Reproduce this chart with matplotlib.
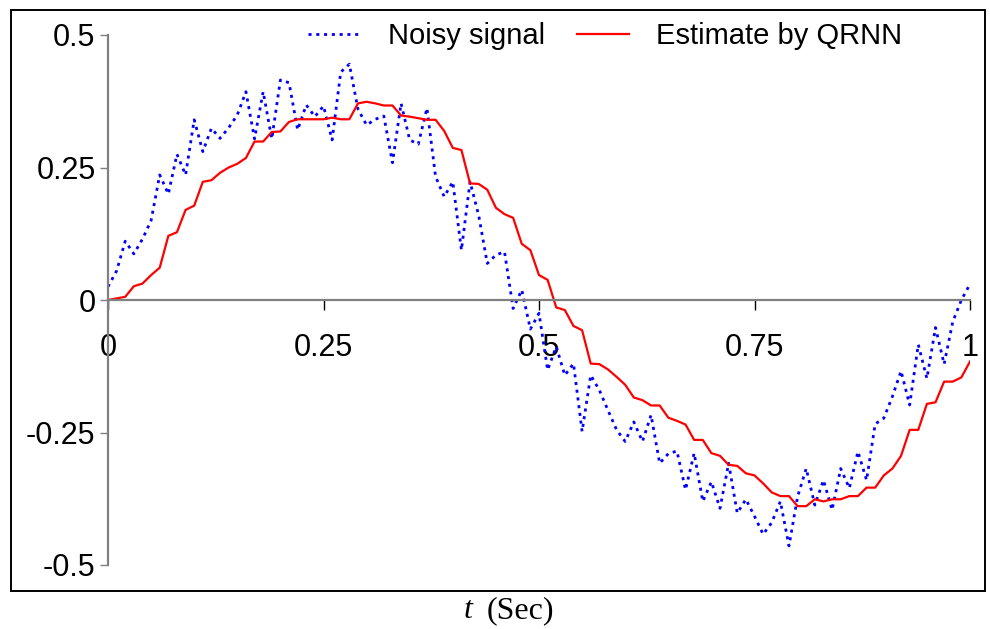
import numpy as np
import matplotlib
matplotlib.use('Agg')
import matplotlib.pyplot as plt
from matplotlib.patches import Rectangle

# ── data (step 0.01 s) ──
t = np.round(np.arange(0, 101) * 0.01, 2)

noisy = [
    0.025, 0.055, 0.111, 0.087, 0.115, 0.150, 0.236, 0.200, 0.275, 0.236,
    0.340, 0.280, 0.324, 0.305, 0.325, 0.349, 0.393, 0.304, 0.393, 0.304,
    0.415, 0.410, 0.321, 0.368, 0.346, 0.366, 0.302, 0.430, 0.445, 0.360,
    0.330, 0.341, 0.347, 0.259, 0.371, 0.302, 0.294, 0.362, 0.233, 0.195,
    0.223, 0.094, 0.223, 0.160, 0.069, 0.085, 0.091, -0.016, 0.019, -0.055,
    -0.025, -0.132, -0.088, -0.142, -0.120, -0.248, -0.142, -0.170, -0.208, -0.245,
    -0.267, -0.230, -0.267, -0.217, -0.308, -0.290, -0.285, -0.358, -0.289, -0.380,
    -0.343, -0.393, -0.308, -0.402, -0.376, -0.408, -0.442, -0.420, -0.380, -0.464,
    -0.371, -0.318, -0.387, -0.340, -0.396, -0.318, -0.355, -0.286, -0.340, -0.234,
    -0.223, -0.182, -0.134, -0.198, -0.084, -0.148, -0.052, -0.121, -0.041, 0.000,
    0.030,
]

qrnn = [
    0.000, 0.003, 0.006, 0.026, 0.031, 0.047, 0.061, 0.121, 0.128, 0.170,
    0.178, 0.223, 0.226, 0.240, 0.250, 0.257, 0.268, 0.299, 0.299, 0.317,
    0.318, 0.336, 0.341, 0.341, 0.341, 0.341, 0.344, 0.341, 0.341, 0.371,
    0.374, 0.371, 0.367, 0.367, 0.348, 0.346, 0.343, 0.340, 0.340, 0.319,
    0.287, 0.283, 0.220, 0.219, 0.208, 0.174, 0.162, 0.155, 0.106, 0.094,
    0.047, 0.038, -0.014, -0.019, -0.049, -0.057, -0.120, -0.121, -0.131, -0.145,
    -0.160, -0.184, -0.189, -0.199, -0.199, -0.222, -0.228, -0.235, -0.264, -0.264,
    -0.289, -0.294, -0.311, -0.313, -0.327, -0.331, -0.346, -0.363, -0.370, -0.370,
    -0.389, -0.389, -0.376, -0.380, -0.376, -0.376, -0.370, -0.370, -0.354, -0.354,
    -0.331, -0.318, -0.294, -0.245, -0.245, -0.196, -0.193, -0.154, -0.154, -0.146,
    -0.116,
]

xticks = [0, 0.25, 0.5, 0.75, 1]
xticklabels = ['0', '0.25', '0.5', '0.75', '1']
yticks = [-0.5, -0.25, 0, 0.25, 0.5]
yticklabels = ['-0.5', '-0.25', '0', '0.25', '0.5']

SANS = ['Liberation Sans', 'DejaVu Sans']
SERIF = ['Liberation Serif', 'DejaVu Serif']
plt.rcParams['font.family'] = SANS

W, H = 990, 629
fig = plt.figure(figsize=(W / 100, H / 100), dpi=100)
ax = fig.add_axes([108 / W, 1 - 565 / H, (970 - 108) / W, (565 - 35) / H])

ax.plot(t, noisy, color='#0000ff', lw=2.0, ls=(0, (1.1, 1.7)), label='Noisy signal')
ax.plot(t, qrnn, color='#ff0000', lw=1.6, label='Estimate by QRNN')

ax.set_xlim(0, 1)
ax.set_ylim(-0.5, 0.5)

# ── axes in Excel style ──
for s in ['top', 'right']:
    ax.spines[s].set_visible(False)
ax.spines['bottom'].set_position(('data', 0))
for s in ['left', 'bottom']:
    ax.spines[s].set_color('#808080')
    ax.spines[s].set_linewidth(1.6)

ax.set_xticks(xticks)
ax.set_xticklabels(xticklabels)
ax.set_yticks(yticks)
ax.set_yticklabels(yticklabels)
ax.tick_params(axis='y', direction='out', length=6, width=1, color='#808080',
               pad=3, labelsize=22)
ax.tick_params(axis='x', direction='out', length=7, width=1, color='black',
               pad=17, labelsize=22)
ax.set_xticks([0.25, 0.75], minor=True)
ax.tick_params(axis='x', which='minor', direction='inout', length=12, width=1,
               color='black')

# ── legend ──
ax.legend(loc='center left', bbox_to_anchor=(308 / W, 1 - 36 / H),
          bbox_transform=fig.transFigure, ncol=2, frameon=False,
          fontsize=21, handlelength=1.78, handletextpad=0.95,
          columnspacing=1.1, borderpad=0, borderaxespad=0)

# ── x axis title ──
fig.text(468 / W, 1 - 611 / H, 't', family=SERIF, style='italic',
         fontsize=23, ha='center', va='center')
fig.text(487 / W, 1 - 611 / H, '(Sec)', family=SERIF,
         fontsize=23, ha='left', va='center')

# ── chart border ──
fig.add_artist(Rectangle((11 / W, 1 - 591 / H), (985 - 11) / W, (591 - 10) / H,
                         transform=fig.transFigure, fill=False,
                         lw=1.4, ec='black'))

fig.savefig('out.png', dpi=100)
